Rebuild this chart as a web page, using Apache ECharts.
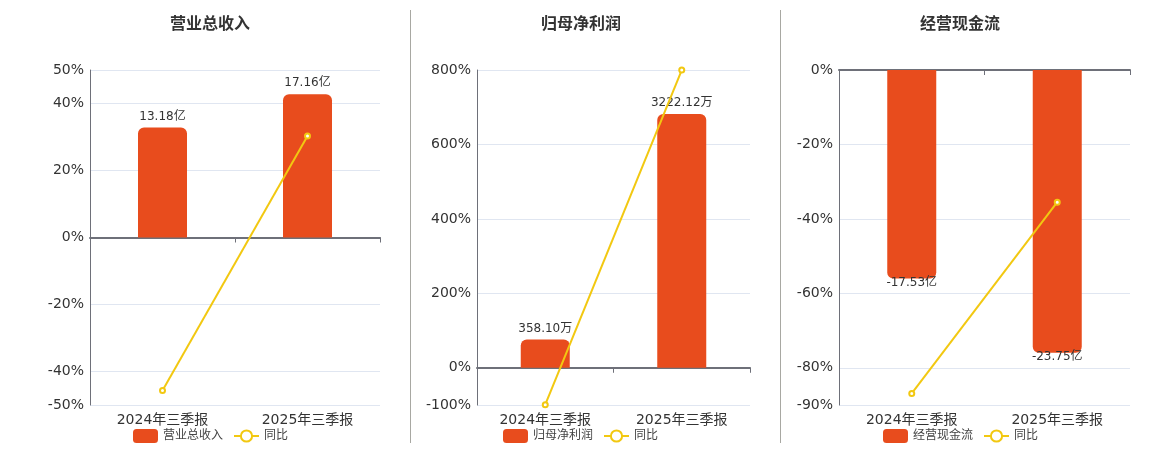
<!DOCTYPE html>
<html>
<head>
<meta charset="utf-8">
<script src="https://cdn.jsdelivr.net/npm/echarts@6/dist/echarts.min.js"></script>
<style>html,body{margin:0;padding:0;background:#fff;}#c{width:1160px;height:450px;}</style>
</head>
<body>
<div id="c"></div>
<script>
var categories = ['2024年三季报', '2025年三季报'];
var titles = ['营业总收入', '归母净利润', '经营现金流'];
var units = ['亿', '万', '亿'];
var revenue = [13.18, 17.16];
var revenueYoy = [-45.7, 30.3];
var profit = [358.10, 3222.12];
var profitYoy = [-99.0, 799.8];
var cashflow = [-17.53, -23.75];
var cashflowYoy = [-86.9, -35.5];
var ticks1 = [-50, -40, -20, 0, 20, 40, 50];
var ticks2 = [-100, 0, 200, 400, 600, 800];
var ticks3 = [-90, -80, -60, -40, -20, 0];
var barAxisExtent = [20.05, 3780, 28.15];

var barValues = [revenue, profit, cashflow];
var yoyValues = [revenueYoy, profitYoy, cashflowYoy];
var tickSets = [ticks1, ticks2, ticks3];

var FONT = 'DejaVu Sans, Noto Sans CJK SC, sans-serif';
var BAR = '#E84C1D', LINE = '#F2C811', TXT = '#333', AX = '#6E7079';
var grids = [
  {left: 90, right: 780, top: 70, bottom: 45},
  {left: 477, right: 410, top: 70, bottom: 45},
  {left: 839, right: 30, top: 70, bottom: 45}
];
var centers = [205, 576, 955];

var option = {
  animation: false,
  title: [], legend: [], grid: grids, xAxis: [], yAxis: [], series: [],
  graphic: [
    {type: 'line', shape: {x1: 410.5, y1: 10, x2: 410.5, y2: 443}, style: {stroke: '#A8A8A2', lineWidth: 1}},
    {type: 'line', shape: {x1: 780.5, y1: 10, x2: 780.5, y2: 443}, style: {stroke: '#A8A8A2', lineWidth: 1}}
  ]
};

for (var i = 0; i < 3; i++) {
  var t = tickSets[i];
  var lmin = Math.min.apply(null, t), lmax = Math.max.apply(null, t);
  var lineExt = Math.max(Math.abs(lmin), Math.abs(lmax));
  var scale = barAxisExtent[i] / lineExt;

  option.title.push({
    text: titles[i], left: centers[i], top: 10, textAlign: 'center',
    textStyle: {fontSize: 16, fontWeight: 'bold', color: TXT, fontFamily: 'Noto Sans CJK SC'}
  });
  option.legend.push({
    data: [{name: titles[i], icon: 'roundRect'}, {name: '同比'}],
    left: [128, 498, 878][i], top: 424, itemWidth: 25, itemHeight: 14, itemGap: 10,
    textStyle: {fontSize: 12, color: '#444', fontFamily: FONT}
  });
  option.xAxis.push({
    type: 'category', gridIndex: i, data: categories, position: 'bottom',
    axisLine: {show: false, onZero: false}, axisTick: {show: false},
    axisLabel: {fontSize: 14, color: TXT, margin: 8, fontFamily: FONT},
    splitLine: {show: false}
  });
  option.xAxis.push({
    type: 'category', gridIndex: i, data: categories, position: 'bottom',
    axisLine: {show: true, onZero: true, onZeroAxisIndex: i * 2, lineStyle: {color: AX, width: 2}},
    axisTick: {show: true, length: 5, lineStyle: {color: AX}},
    axisLabel: {show: false}, splitLine: {show: false}
  });
  option.yAxis.push({
    type: 'value', gridIndex: i, min: lmin, max: lmax, interval: 10,
    axisLine: {show: true, lineStyle: {color: AX, width: 1}},
    axisTick: {show: false, customValues: t},
    axisLabel: {customValues: t, formatter: '{value}%', fontSize: 14, color: TXT, fontFamily: FONT, margin: 6},
    splitLine: {show: true, lineStyle: {color: '#E0E6F1'}}
  });
  option.yAxis.push({
    type: 'value', gridIndex: i, min: lmin * scale, max: lmax * scale,
    show: false, splitLine: {show: false}
  });
}

for (var j = 0; j < 3; j++) {
  (function (i) {
    var neg = barValues[i][0] < 0;
    option.series.push({
      name: titles[i], type: 'bar', xAxisIndex: i * 2, yAxisIndex: i * 2 + 1,
      data: barValues[i], barWidth: 49,
      itemStyle: {color: BAR, borderRadius: neg ? [0, 0, 6, 6] : [6, 6, 0, 0]},
      label: {
        show: true, position: neg ? 'bottom' : 'top', distance: neg ? -2 : 5,
        fontSize: 12, color: TXT, fontFamily: FONT,
        formatter: function (p) { return p.value.toFixed(2) + units[i]; }
      }
    });
    option.series.push({
      name: '同比', type: 'line', xAxisIndex: i * 2, yAxisIndex: i * 2,
      data: yoyValues[i], symbol: 'emptyCircle', symbolSize: 5,
      lineStyle: {color: LINE, width: 2}, itemStyle: {color: LINE},
      z: 5
    });
  })(j);
}

var chart = echarts.init(document.getElementById('c'));
chart.setOption(option);
</script>
</body>
</html>
